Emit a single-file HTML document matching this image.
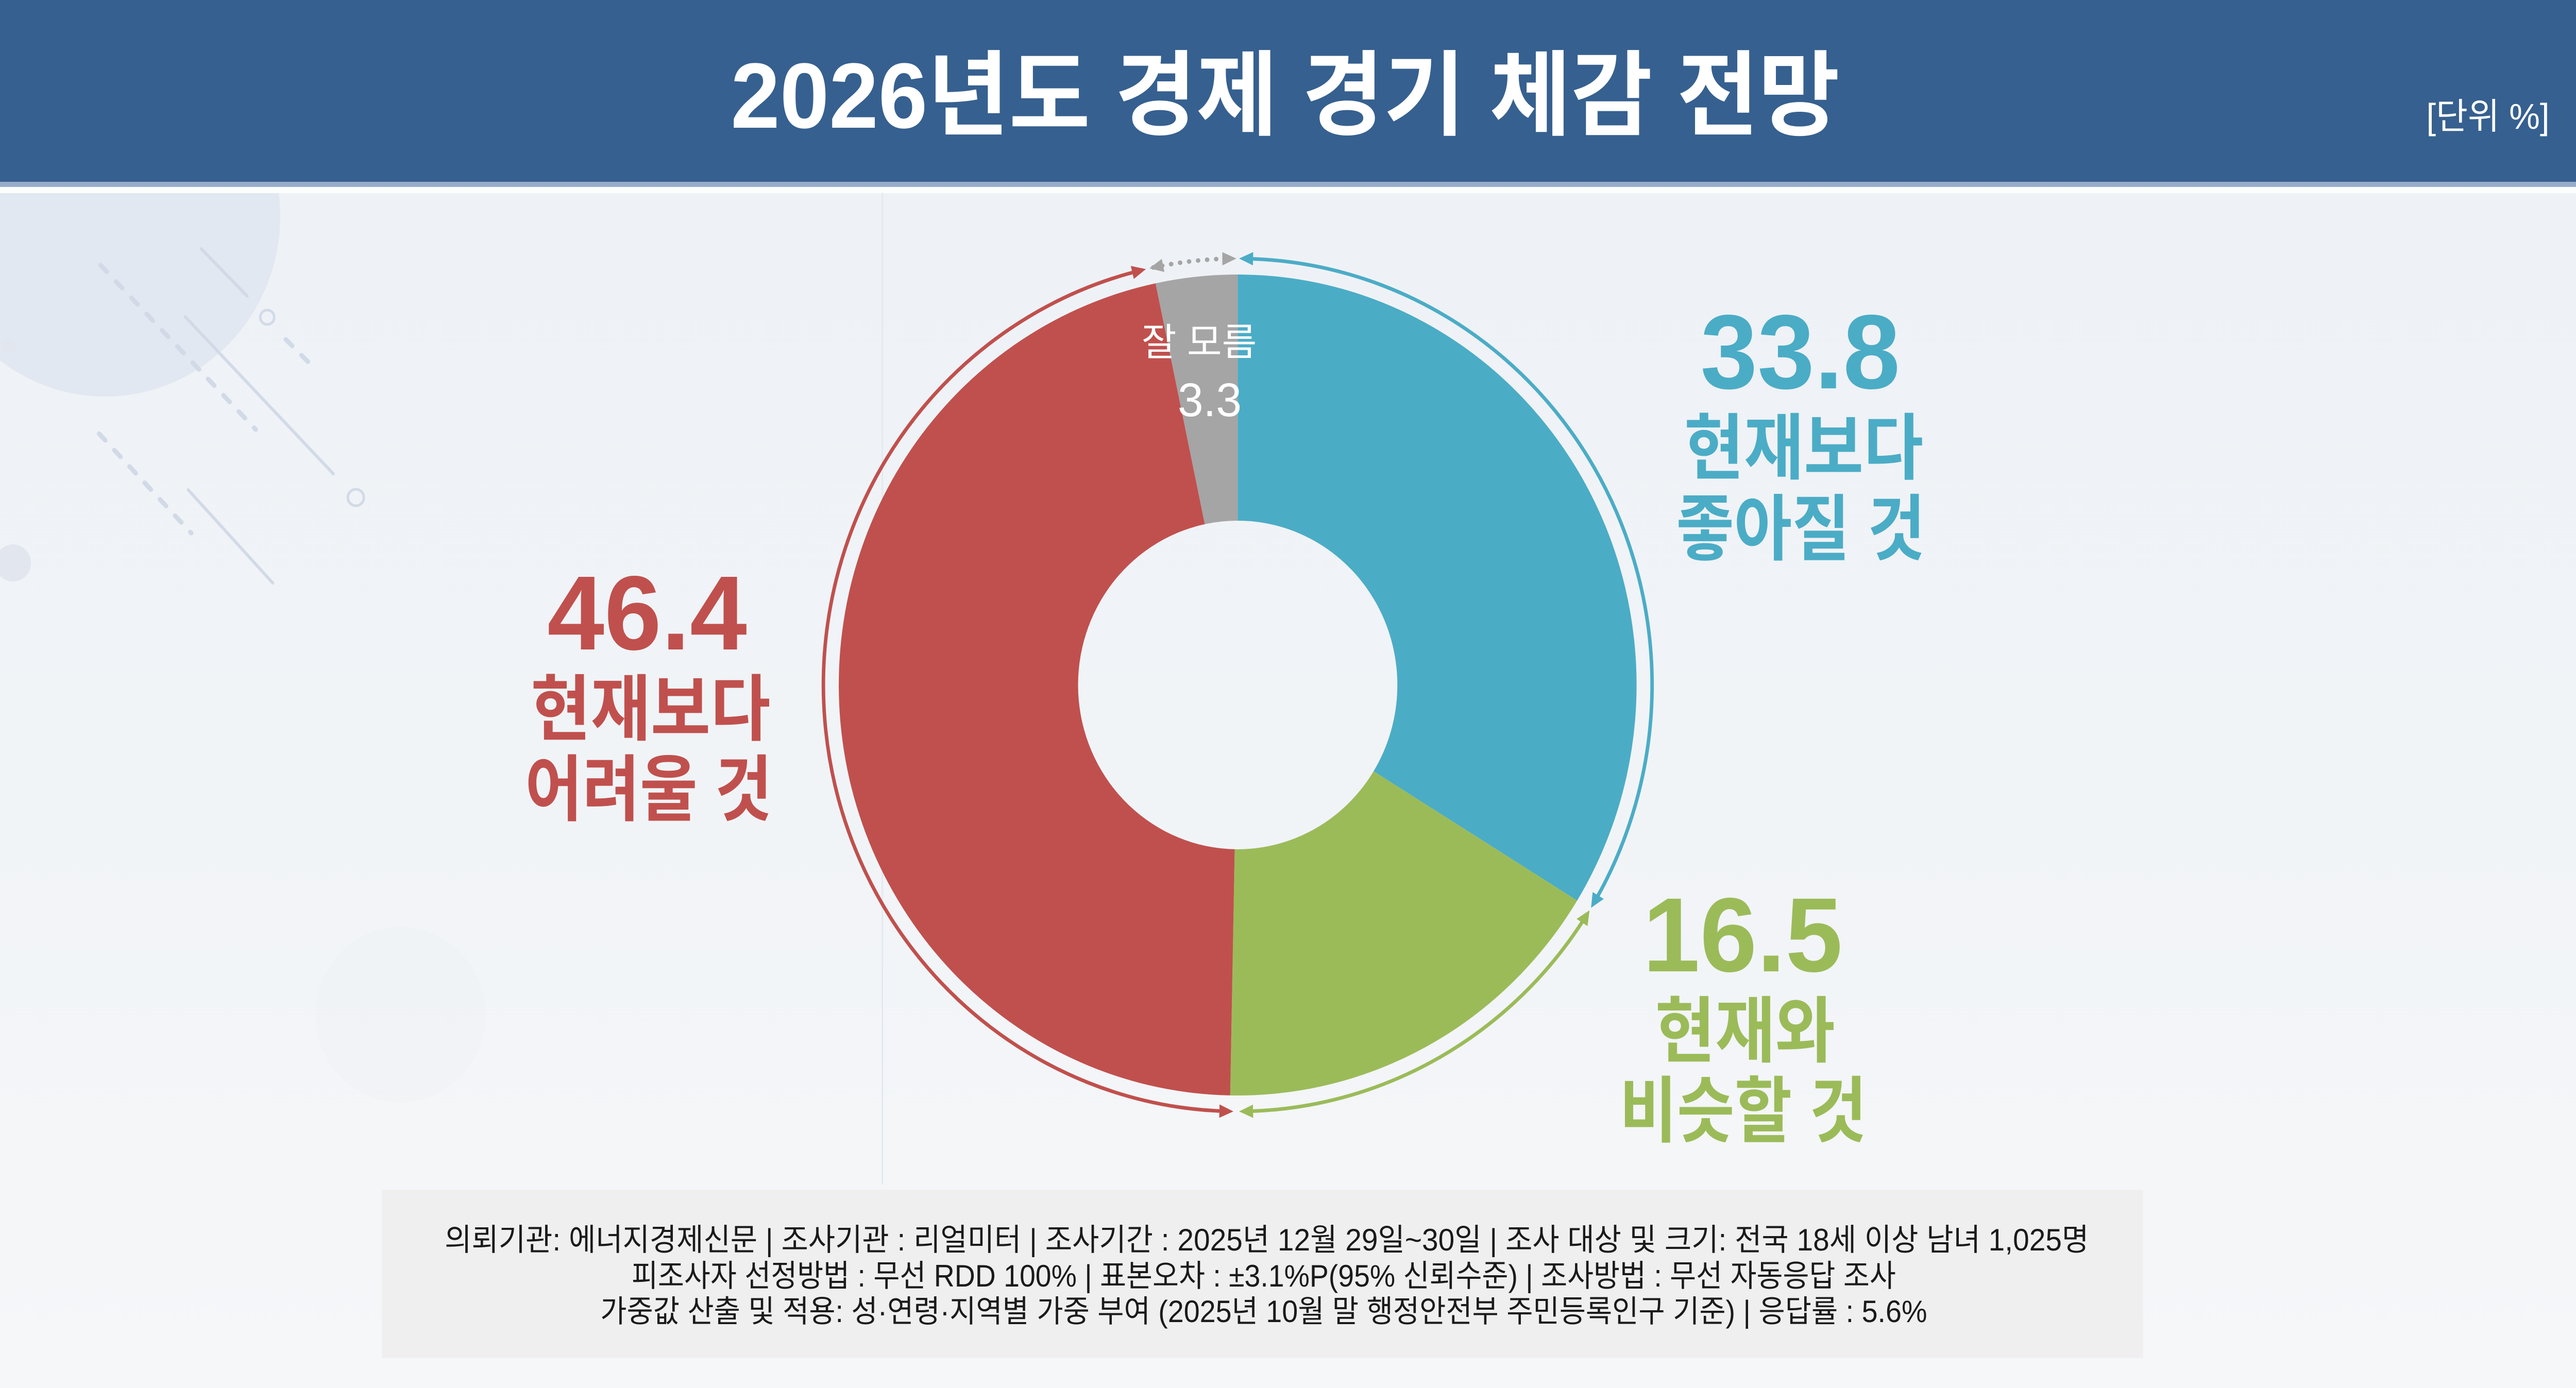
<!DOCTYPE html>
<html lang="ko">
<head>
<meta charset="utf-8">
<style>
  html,body{margin:0;padding:0;width:100%;height:100%;overflow:hidden;background:#f0f3f7;}
  svg{display:block;width:100vw;height:100vh;}
  text{font-family:"Liberation Sans","Noto Sans CJK KR",sans-serif;}
</style>
</head>
<body>
<svg viewBox="0 0 5147 2695" preserveAspectRatio="none" xmlns="http://www.w3.org/2000/svg">
  <defs>
    <linearGradient id="bg" x1="0" y1="0" x2="0" y2="1">
      <stop offset="0" stop-color="#edf1f6"/>
      <stop offset="0.6" stop-color="#f1f4f7"/>
      <stop offset="1" stop-color="#f6f7f9"/>
    </linearGradient>
    <marker id="mBlue" viewBox="0 0 28 26" markerUnits="userSpaceOnUse" markerWidth="28" markerHeight="26" refX="20" refY="13" orient="auto-start-reverse">
      <path d="M0,0 L28,13 L0,26 Z" fill="#4bacc6"/>
    </marker>
    <marker id="mGreen" viewBox="0 0 28 26" markerUnits="userSpaceOnUse" markerWidth="28" markerHeight="26" refX="20" refY="13" orient="auto-start-reverse">
      <path d="M0,0 L28,13 L0,26 Z" fill="#9bbb59"/>
    </marker>
    <marker id="mRed" viewBox="0 0 28 26" markerUnits="userSpaceOnUse" markerWidth="28" markerHeight="26" refX="20" refY="13" orient="auto-start-reverse">
      <path d="M0,0 L28,13 L0,26 Z" fill="#c0504d"/>
    </marker>
    <marker id="mGray" viewBox="0 0 28 26" markerUnits="userSpaceOnUse" markerWidth="28" markerHeight="26" refX="20" refY="13" orient="auto-start-reverse">
      <path d="M0,0 L28,13 L0,26 Z" fill="#a5a5a5"/>
    </marker>
  </defs>

  <!-- background -->
  <rect x="0" y="0" width="5147" height="2695" fill="url(#bg)"/>

  <!-- decorations -->
  <circle cx="210" cy="420" r="350" fill="#e2e8f1"/>
  <g stroke="#d2dae7" stroke-width="6" stroke-linecap="round" fill="none">
    <line x1="402" y1="483" x2="494" y2="575"/>
    <line x1="370" y1="615" x2="666" y2="920"/>
    <line x1="376" y1="951" x2="545" y2="1132"/>
    <line x1="201" y1="515" x2="511" y2="834" stroke-dasharray="18 26" stroke-width="9"/>
    <line x1="198" y1="842" x2="382" y2="1035" stroke-dasharray="18 26" stroke-width="9"/>
    <line x1="571" y1="659" x2="620" y2="707" stroke-dasharray="18 26" stroke-width="9"/>
    <circle cx="534" cy="616" r="14" stroke-width="5"/>
    <circle cx="711" cy="966" r="16" stroke-width="5"/>
  </g>
  <circle cx="26" cy="1093" r="36" fill="#e2e7ef"/>
  <circle cx="17" cy="673" r="15" fill="#e2e7ef"/>
  <circle cx="800" cy="1970" r="170" fill="#edf0f4" opacity="0.35"/>
  <line x1="1763" y1="375" x2="1763" y2="2300" stroke="#e4e9f0" stroke-width="3"/>

  <!-- header -->
  <rect x="0" y="0" width="5147" height="353" fill="#36608f"/>
  <rect x="0" y="353" width="5147" height="10" fill="#98adc9"/>
  <rect x="0" y="363" width="5147" height="12" fill="#fcfdfe"/>
  <text x="2568" y="248" font-size="180" font-weight="bold" fill="#ffffff" text-anchor="middle" textLength="2216" lengthAdjust="spacingAndGlyphs">2026년도 경제 경기 체감 전망</text>
  <text x="4971" y="250" font-size="70" fill="#ffffff" text-anchor="middle" textLength="246" lengthAdjust="spacingAndGlyphs">[단위 %]</text>

  <!-- donut -->
  <path d="M2473,533 A797,797 0 0 1 3151.2,1748.6 L2744.5,1497.5 A319,319 0 0 0 2473,1011 Z" fill="#4bacc6"/>
  <path d="M3151.2,1748.6 A797,797 0 0 1 2458.0,2126.9 L2467.0,1648.9 A319,319 0 0 0 2744.5,1497.5 Z" fill="#9bbb59"/>
  <path d="M2458.0,2126.9 A797,797 0 0 1 2308.9,550.1 L2407.3,1017.8 A319,319 0 0 0 2467.0,1648.9 Z" fill="#c0504d"/>
  <path d="M2308.9,550.1 A797,797 0 0 1 2473,533 L2473,1011 A319,319 0 0 0 2407.3,1017.8 Z" fill="#a5a5a5"/>

  <!-- arrow arcs -->
  <g fill="none" stroke-width="7">
    <path d="M2483.8,502.1 A828,828 0 0 1 3183.1,1755.8" stroke="#4bacc6" marker-start="url(#mBlue)" marker-end="url(#mBlue)"/>
    <path d="M3171.7,1774.3 A828,828 0 0 1 2483.8,2157.9" stroke="#9bbb59" marker-start="url(#mGreen)" marker-end="url(#mGreen)"/>
    <path d="M2456.4,2157.8 A828,828 0 0 1 2281.8,524.4" stroke="#c0504d" marker-start="url(#mRed)" marker-end="url(#mRed)"/>
    <path d="M2304.4,519.4 A828,828 0 0 1 2462.2,502.1" stroke="#a5a5a5" stroke-width="9" stroke-linecap="round" stroke-dasharray="0.1 18" marker-start="url(#mGray)" marker-end="url(#mGray)"/>
  </g>

  <!-- gray label -->
  <text x="2396" y="690" font-size="74" fill="#ffffff" text-anchor="middle" textLength="230" lengthAdjust="spacingAndGlyphs">잘 모름</text>
  <text x="2417" y="808" font-size="92" fill="#ffffff" text-anchor="middle">3.3</text>

  <!-- blue label -->
  <text x="3597" y="754" font-size="205" font-weight="bold" fill="#4bacc6" text-anchor="middle">33.8</text>
  <text x="3604" y="919" font-size="140" font-weight="bold" fill="#4bacc6" text-anchor="middle" textLength="478" lengthAdjust="spacingAndGlyphs">현재보다</text>
  <text x="3598" y="1076" font-size="140" font-weight="bold" fill="#4bacc6" text-anchor="middle" textLength="498" lengthAdjust="spacingAndGlyphs">좋아질 것</text>

  <!-- red label -->
  <text x="1293" y="1261" font-size="205" font-weight="bold" fill="#c0504d" text-anchor="middle">46.4</text>
  <text x="1300" y="1426" font-size="140" font-weight="bold" fill="#c0504d" text-anchor="middle" textLength="479" lengthAdjust="spacingAndGlyphs">현재보다</text>
  <text x="1296" y="1582" font-size="140" font-weight="bold" fill="#c0504d" text-anchor="middle" textLength="494" lengthAdjust="spacingAndGlyphs">어려울 것</text>

  <!-- green label -->
  <text x="3482" y="1886" font-size="205" font-weight="bold" fill="#9bbb59" text-anchor="middle">16.5</text>
  <text x="3487" y="2051" font-size="140" font-weight="bold" fill="#9bbb59" text-anchor="middle" textLength="360" lengthAdjust="spacingAndGlyphs">현재와</text>
  <text x="3483" y="2206" font-size="140" font-weight="bold" fill="#9bbb59" text-anchor="middle" textLength="494" lengthAdjust="spacingAndGlyphs">비슷할 것</text>

  <!-- footer -->
  <rect x="763" y="2310" width="3519" height="327" fill="#efefef"/>
  <g font-size="60" fill="#1a1a1a" text-anchor="middle">
    <text x="2531" y="2428" textLength="3285" lengthAdjust="spacingAndGlyphs">의뢰기관: 에너지경제신문  | 조사기관 : 리얼미터  |  조사기간 : 2025년 12월 29일~30일 | 조사 대상 및 크기: 전국 18세 이상 남녀 1,025명</text>
    <text x="2525" y="2498" textLength="2526" lengthAdjust="spacingAndGlyphs">피조사자 선정방법 : 무선 RDD 100% | 표본오차 : ±3.1%P(95% 신뢰수준) | 조사방법 : 무선 자동응답 조사</text>
    <text x="2525" y="2567" textLength="2651" lengthAdjust="spacingAndGlyphs">가중값 산출 및 적용: 성·연령·지역별 가중 부여 (2025년 10월 말 행정안전부 주민등록인구 기준) | 응답률 : 5.6%</text>
  </g>
</svg>
</body>
</html>
